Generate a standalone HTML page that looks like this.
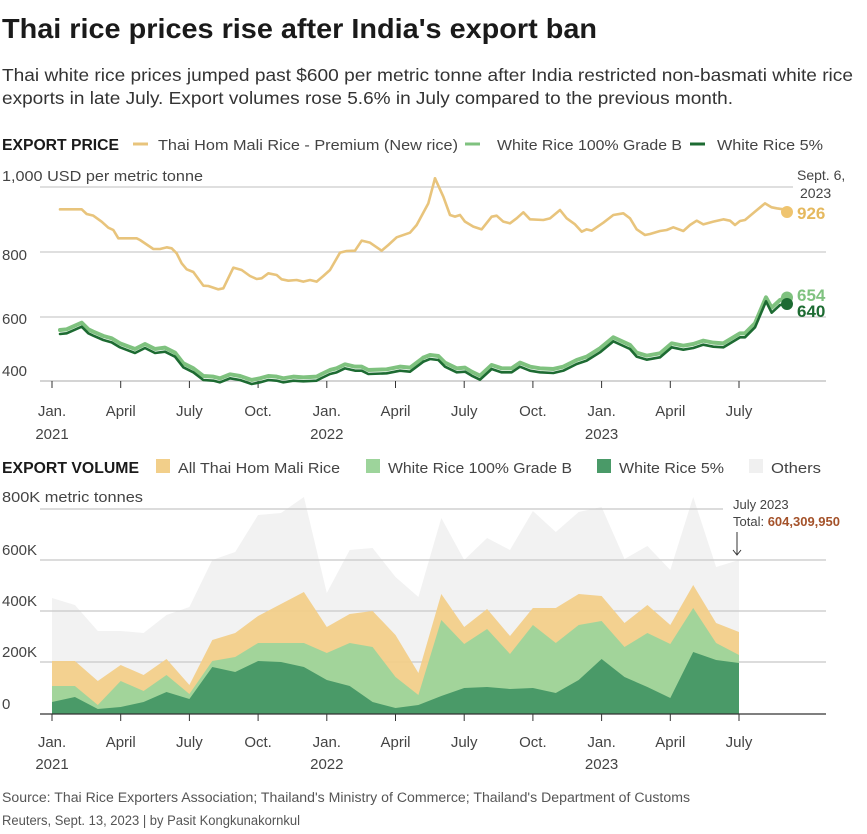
<!DOCTYPE html>
<html><head><meta charset="utf-8"><style>
body{margin:0;background:#fff;}
svg{display:block;font-family:"Liberation Sans",sans-serif;}
.nss{vector-effect:non-scaling-stroke;fill:none;stroke-linejoin:round;stroke-linecap:round}
</style></head><body>
<svg width="867" height="834" viewBox="0 0 867 834" xmlns="http://www.w3.org/2000/svg">
<text x="2" y="38" font-size="28" font-weight="bold" fill="#1a1a1a" textLength="595" lengthAdjust="spacingAndGlyphs">Thai rice prices rise after India's export ban</text>
<text x="2" y="81" font-size="17.5" fill="#333" textLength="851" lengthAdjust="spacingAndGlyphs">Thai white rice prices jumped past $600 per metric tonne after India restricted non-basmati white rice</text>
<text x="2" y="104" font-size="17.5" fill="#333" textLength="731" lengthAdjust="spacingAndGlyphs">exports in late July. Export volumes rose 5.6% in July compared to the previous month.</text>

<text x="2" y="150" font-size="15.5" font-weight="bold" fill="#1a1a1a" textLength="117" lengthAdjust="spacingAndGlyphs">EXPORT PRICE</text>
<line x1="133" y1="144" x2="148" y2="144" stroke="#e8c47c" stroke-width="3"/>
<text x="158" y="150" font-size="15" fill="#444" textLength="300" lengthAdjust="spacingAndGlyphs">Thai Hom Mali Rice - Premium (New rice)</text>
<line x1="465" y1="144" x2="480" y2="144" stroke="#7fc27f" stroke-width="3"/>
<text x="497" y="150" font-size="15" fill="#444" textLength="185" lengthAdjust="spacingAndGlyphs">White Rice 100% Grade B</text>
<line x1="690" y1="144" x2="705" y2="144" stroke="#1d6b32" stroke-width="3"/>
<text x="717" y="150" font-size="15" fill="#444" textLength="106" lengthAdjust="spacingAndGlyphs">White Rice 5%</text>

<text x="2" y="181" font-size="15" fill="#444" textLength="201" lengthAdjust="spacingAndGlyphs">1,000 USD per metric tonne</text>
<g stroke="#ccc" stroke-width="1.3">
<line x1="40" y1="187" x2="793" y2="187"/>
<line x1="40" y1="252" x2="826" y2="252"/>
<line x1="40" y1="317" x2="826" y2="317"/>
</g>
<line x1="40" y1="381" x2="826" y2="381" stroke="#bbb" stroke-width="1.3"/>
<text x="2" y="260" font-size="15" fill="#444">800</text>
<text x="2" y="324" font-size="15" fill="#444">600</text>
<text x="2" y="376" font-size="15" fill="#444">400</text>
<g stroke="#333" stroke-width="1">
<line x1="52" y1="381" x2="52" y2="388"/><line x1="120.7" y1="381" x2="120.7" y2="388"/><line x1="189.4" y1="381" x2="189.4" y2="388"/><line x1="258.1" y1="381" x2="258.1" y2="388"/><line x1="326.8" y1="381" x2="326.8" y2="388"/><line x1="395.5" y1="381" x2="395.5" y2="388"/><line x1="464.2" y1="381" x2="464.2" y2="388"/><line x1="532.9" y1="381" x2="532.9" y2="388"/><line x1="601.6" y1="381" x2="601.6" y2="388"/><line x1="670.3" y1="381" x2="670.3" y2="388"/><line x1="739" y1="381" x2="739" y2="388"/>
</g>
<g font-size="15" fill="#444" text-anchor="middle">
<text x="52" y="416">Jan.</text><text x="52" y="439">2021</text>
<text x="120.7" y="416">April</text><text x="189.4" y="416">July</text><text x="258.1" y="416">Oct.</text>
<text x="326.8" y="416">Jan.</text><text x="326.8" y="439">2022</text>
<text x="395.5" y="416">April</text><text x="464.2" y="416">July</text><text x="532.9" y="416">Oct.</text>
<text x="601.6" y="416">Jan.</text><text x="601.6" y="439">2023</text>
<text x="670.3" y="416">April</text><text x="739" y="416">July</text>
</g>

<!-- price lines -->
<g transform="translate(40,170) scale(0.33333)">
<polyline class="nss" stroke="#e8c47c" stroke-width="2.6" points="60,118 125,118 140,132 160,137 185,155 205,173 220,180 235,205 290,205 300,210 340,237 360,237 380,232 395,235 410,250 425,280 440,298 460,306 490,347 505,348 535,358 550,355 580,293 605,300 630,318 650,327 665,325 685,310 710,315 725,328 745,332 770,330 790,335 810,330 830,335 850,318 870,300 900,248 920,243 945,242 965,212 990,218 1025,242 1045,225 1070,202 1110,188 1130,165 1165,100 1185,25"/>
<polyline class="nss" stroke="#7fc27f" stroke-width="4" points="60,480 80,478 125,458 145,478 160,485 190,498 215,505 240,520 285,537 315,522 345,537 375,533 405,548 430,580 460,595 490,618 520,620 540,625 570,613 600,618 635,630 660,625 685,618 710,620 730,625 760,620 790,622 830,620 845,612 870,600 890,595 915,583 945,590 965,590 985,600 1040,598 1080,590 1110,593 1150,563"/>
<g transform="translate(0,12)"><polyline class="nss" stroke="#1d6b32" stroke-width="2.6" points="60,480 80,478 125,458 145,478 160,485 190,498 215,505 240,520 285,537 315,522 345,537 375,533 405,548 430,580 460,595 490,618 520,620 540,625 570,613 600,618 635,630 660,625 685,618 710,620 730,625 760,620 790,622 830,620 845,612 870,600 890,595 915,583 945,590 965,590 985,600 1040,598 1080,590 1110,593 1150,563"/></g>
</g>
<g transform="translate(430,170) scale(0.33333)">
<polyline class="nss" stroke="#e8c47c" stroke-width="2.6" points="15,25 40,80 60,135 75,140 90,135 105,155 130,170 155,178 185,140 200,137 220,155 240,160 260,145 280,127 300,148 340,150 360,145 390,120 410,145 435,163 455,185 470,178 485,182 520,158 550,135 580,130 600,145 620,178 645,195 660,192 690,183 710,180 730,172 760,183 780,165 800,152 820,163 850,155 880,148 900,152 915,165 930,153 945,150 975,125 1005,100 1025,112 1040,115 1060,118 1072,125"/>
<polyline class="nss" stroke="#7fc27f" stroke-width="4" points="-20,563 0,555 25,558 45,578 80,595 105,593 125,605 150,617 185,585 215,595 245,595 270,578 300,590 330,595 370,597 400,590 440,570 470,560 510,535 550,502 600,525 620,548 650,557 690,550 725,520 760,527 790,522 820,512 850,518 880,520 905,505 930,490 945,490 975,460 1008,382 1025,413 1050,390 1072,382"/>
<polyline class="nss" stroke="#1d6b32" stroke-width="2.6" points="-20,575 0,567 25,570 45,590 80,607 105,605 125,617 150,629 185,597 215,607 245,607 270,590 300,602 330,607 370,609 400,602 440,582 470,572 510,547 550,514 600,537 620,560 650,569 690,562 725,532 760,539 790,534 820,524 850,530 880,532 905,517 930,502 945,502 975,472 1008,394 1025,428 1050,405 1072,402"/>
</g>
<circle cx="787" cy="212" r="6" fill="#efc46f"/>
<circle cx="787" cy="297.5" r="6" fill="#7fc27f"/>
<circle cx="787" cy="304" r="6" fill="#1d6b32"/>
<text x="797" y="180" font-size="14" fill="#444">Sept. 6,</text>
<text x="800" y="198" font-size="14" fill="#444">2023</text>
<text x="797" y="219" font-size="17" fill="#e5b95f" font-weight="bold">926</text>
<text x="797" y="301" font-size="17" fill="#7fc27f" font-weight="bold">654</text>
<text x="797" y="317" font-size="17" fill="#1d6b32" font-weight="bold">640</text>

<!-- volume -->
<text x="2" y="473" font-size="15.5" font-weight="bold" fill="#1a1a1a" textLength="137" lengthAdjust="spacingAndGlyphs">EXPORT VOLUME</text>
<rect x="156" y="459" width="14" height="14" fill="#f2cf8a"/>
<text x="178" y="473" font-size="15" fill="#444" textLength="162" lengthAdjust="spacingAndGlyphs">All Thai Hom Mali Rice</text>
<rect x="366" y="459" width="14" height="14" fill="#9dd49b"/>
<text x="388" y="473" font-size="15" fill="#444" textLength="184" lengthAdjust="spacingAndGlyphs">White Rice 100% Grade B</text>
<rect x="597" y="459" width="14" height="14" fill="#4a9a68"/>
<text x="619" y="473" font-size="15" fill="#444" textLength="105" lengthAdjust="spacingAndGlyphs">White Rice 5%</text>
<rect x="749" y="459" width="14" height="14" fill="#f0f0f0"/>
<text x="771" y="473" font-size="15" fill="#444" textLength="50" lengthAdjust="spacingAndGlyphs">Others</text>
<text x="2" y="502" font-size="15" fill="#444" textLength="141" lengthAdjust="spacingAndGlyphs">800K metric tonnes</text>

<polygon fill="#f2f2f2" points="52,714 52,598 74.9,605 97.8,631 120.7,631 143.6,633 166.5,615 189.4,607 212.3,560 235.2,552 258.1,515 281,513 303.9,497 326.8,593 349.7,550 372.6,548 395.5,577 418.4,597 441.3,518 464.2,560 487.1,538 510,550 532.9,511 555.8,532 578.7,512 601.6,507 624.5,559 647.4,546 670.3,570 693.2,497 716.1,567 739,560 739,714"/>
<g stroke="#c8c8c8" stroke-width="1.2">
<line x1="40" y1="509" x2="723" y2="509"/>
<line x1="40" y1="560" x2="826" y2="560"/>
<line x1="40" y1="611" x2="826" y2="611"/>
<line x1="40" y1="662" x2="826" y2="662"/>
</g>
<polygon fill="#f2cf8a" fill-opacity="0.95" points="52,714 52,661 74.9,661 97.8,681 120.7,665 143.6,675 166.5,659 189.4,685 212.3,640 235.2,633 258.1,616 281,604 303.9,592 326.8,627 349.7,614 372.6,611 395.5,635 418.4,673 441.3,594 464.2,627 487.1,609 510,636 532.9,608 555.8,608 578.7,594 601.6,596 624.5,623 647.4,605 670.3,625 693.2,585 716.1,623 739,632 739,714"/>
<polygon fill="#9dd49b" fill-opacity="0.95" points="52,714 52,686 74.9,686 97.8,705 120.7,681 143.6,691 166.5,675 189.4,694 212.3,661 235.2,657 258.1,643 281,643 303.9,643 326.8,653 349.7,643 372.6,647 395.5,677 418.4,695 441.3,620 464.2,644 487.1,629 510,654 532.9,625 555.8,643 578.7,625 601.6,621 624.5,647 647.4,633 670.3,644 693.2,608 716.1,643 739,655 739,714"/>
<polygon fill="#4a9a68" points="52,714 52,702 74.9,697 97.8,709 120.7,707 143.6,702 166.5,692 189.4,699 212.3,667 235.2,672 258.1,661 281,662 303.9,667 326.8,680 349.7,686 372.6,702 395.5,708 418.4,705 441.3,696 464.2,688 487.1,687 510,689 532.9,688 555.8,693 578.7,680 601.6,659 624.5,677 647.4,687 670.3,698 693.2,652 716.1,660 739,663 739,714"/>
<line x1="40" y1="714" x2="826" y2="714" stroke="#333" stroke-width="1.2"/>
<g stroke="#333" stroke-width="1">
<line x1="52" y1="714" x2="52" y2="721"/><line x1="120.7" y1="714" x2="120.7" y2="721"/><line x1="189.4" y1="714" x2="189.4" y2="721"/><line x1="258.1" y1="714" x2="258.1" y2="721"/><line x1="326.8" y1="714" x2="326.8" y2="721"/><line x1="395.5" y1="714" x2="395.5" y2="721"/><line x1="464.2" y1="714" x2="464.2" y2="721"/><line x1="532.9" y1="714" x2="532.9" y2="721"/><line x1="601.6" y1="714" x2="601.6" y2="721"/><line x1="670.3" y1="714" x2="670.3" y2="721"/><line x1="739" y1="714" x2="739" y2="721"/>
</g>
<text x="2" y="555" font-size="15" fill="#444">600K</text>
<text x="2" y="606" font-size="15" fill="#444">400K</text>
<text x="2" y="657" font-size="15" fill="#444">200K</text>
<text x="2" y="709" font-size="15" fill="#444">0</text>
<g font-size="15" fill="#444" text-anchor="middle">
<text x="52" y="747">Jan.</text><text x="52" y="769">2021</text>
<text x="120.7" y="747">April</text><text x="189.4" y="747">July</text><text x="258.1" y="747">Oct.</text>
<text x="326.8" y="747">Jan.</text><text x="326.8" y="769">2022</text>
<text x="395.5" y="747">April</text><text x="464.2" y="747">July</text><text x="532.9" y="747">Oct.</text>
<text x="601.6" y="747">Jan.</text><text x="601.6" y="769">2023</text>
<text x="670.3" y="747">April</text><text x="739" y="747">July</text>
</g>
<text x="733" y="509" font-size="13" fill="#444">July 2023</text>
<text x="733" y="526" font-size="13" fill="#444">Total: <tspan font-weight="bold" fill="#a4522a">604,309,950</tspan></text>
<line x1="737" y1="532" x2="737" y2="555" stroke="#333" stroke-width="1"/>
<polyline points="733,550 737,555 741,550" fill="none" stroke="#333" stroke-width="1"/>

<text x="2" y="802" font-size="13.5" fill="#555" textLength="688" lengthAdjust="spacingAndGlyphs">Source: Thai Rice Exporters Association; Thailand's Ministry of Commerce; Thailand's Department of Customs</text>
<text x="2" y="825" font-size="13.5" fill="#555" textLength="298" lengthAdjust="spacingAndGlyphs">Reuters, Sept. 13, 2023 | by Pasit Kongkunakornkul</text>
</svg>
</body></html>
